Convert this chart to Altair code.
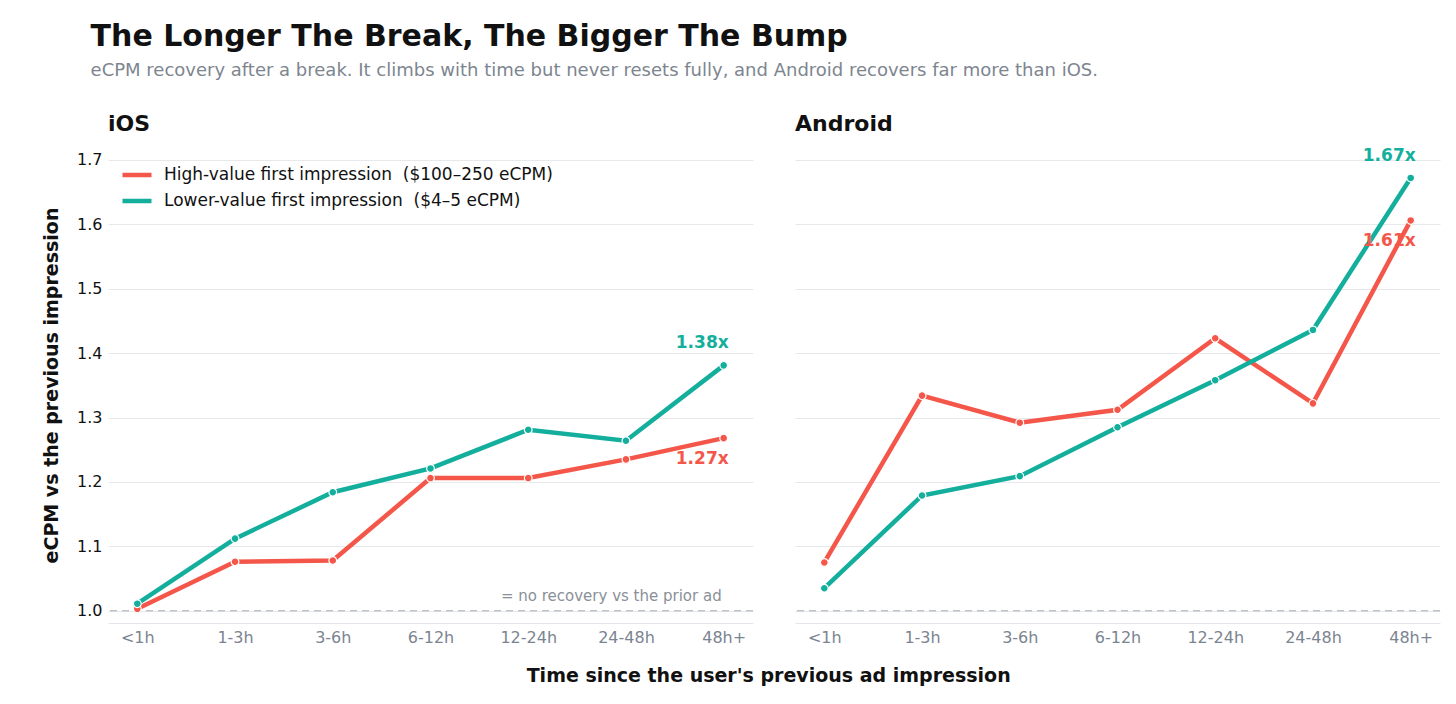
import altair as alt
import pandas as pd

buckets = ["<1h", "1-3h", "3-6h", "6-12h", "12-24h", "24-48h", "48h+"]
platforms = ["iOS", "Android"]
series_names = ["High-value first impression\u00a0 ($100–250 eCPM)",
                "Lower-value first impression\u00a0 ($4–5 eCPM)"]

ios_high = [1.003, 1.076, 1.078, 1.206, 1.206, 1.235, 1.268]
ios_low = [1.011, 1.112, 1.184, 1.221, 1.281, 1.264, 1.381]
android_high = [1.075, 1.334, 1.292, 1.312, 1.423, 1.322, 1.606]
android_low = [1.035, 1.179, 1.209, 1.285, 1.358, 1.436, 1.672]

end_labels = {
    ("iOS", 0): "1.27x", ("iOS", 1): "1.38x",
    ("Android", 0): "1.61x", ("Android", 1): "1.67x",
}

RED = "#F4574A"
TEAL = "#13AF9C"
FONT = "DejaVu Sans"

rows = []
for plat, hi, lo in [("iOS", ios_high, ios_low), ("Android", android_high, android_low)]:
    for si, vals in enumerate([hi, lo]):
        for b, v in zip(buckets, vals):
            rows.append({"platform": plat, "bucket": b, "series": series_names[si],
                         "sidx": si, "value": v,
                         "label": end_labels[(plat, si)] if b == buckets[-1] else ""})
df = pd.DataFrame(rows)

color_scale = alt.Scale(domain=series_names, range=[RED, TEAL])
x_enc = alt.X("bucket:N", sort=buckets, scale=alt.Scale(type="point", padding=0.3),
              axis=alt.Axis(title=None, labelColor="#7b8491", labelFontSize=16,
                            labelFont=FONT, ticks=False, domain=True,
                            domainColor="#e3e7ec", labelPadding=6, grid=False,
                            labelAngle=0))
y_scale = alt.Scale(domain=[0.981, 1.72], nice=False, zero=False)
y_vals = [1.0, 1.1, 1.2, 1.3, 1.4, 1.5, 1.6, 1.7]


def panel(plat, show_axis):
    d = df[df.platform == plat]
    if show_axis:
        y_axis = alt.Axis(title="eCPM vs the previous impression", values=y_vals,
                          format=".1f", labelFontSize=16, labelColor="#111111", labelFont=FONT,
                          titleFont=FONT, titleFontSize=19, titleFontWeight="bold",
                          titleColor="#111111", titlePadding=15, ticks=False, domain=False,
                          gridColor="#e6e8ec", labelPadding=6)
        legend = alt.Legend(title=None, orient="none", legendX=12, legendY=11,
                            symbolType="stroke", symbolStrokeWidth=4.5, symbolSize=841,
                            labelFontSize=17, labelFont=FONT, labelColor="#111111",
                            rowPadding=-4, labelOffset=10, symbolOpacity=1, labelLimit=0)
    else:
        y_axis = alt.Axis(title=None, values=y_vals,
                          labels=False, ticks=False, domain=False, gridColor="#e6e8ec")
        legend = None
    base = alt.Chart(d)
    rule = alt.Chart(pd.DataFrame({"y": [1.0]})).mark_rule(
        color="#bfc3c8", strokeDash=[7, 5], strokeWidth=1.5
    ).encode(y=alt.Y("y:Q", scale=y_scale, axis=y_axis))
    line = base.mark_line(strokeWidth=4.5).encode(
        x=x_enc,
        y=alt.Y("value:Q", scale=y_scale, axis=y_axis),
        color=alt.Color("series:N", scale=color_scale, legend=legend),
        detail="series:N",
    )
    pts = base.mark_point(filled=True, size=60, stroke="white", strokeWidth=1.2, opacity=1).encode(
        x=x_enc, y=alt.Y("value:Q", scale=y_scale),
        fill=alt.Fill("series:N", scale=color_scale, legend=None),
    )
    last = d[d.bucket == buckets[-1]]
    lab_hi = alt.Chart(last[last.sidx == 0]).mark_text(
        font=FONT, fontSize=17, fontWeight="bold", align="right", baseline="middle",
        dx=5, dy=21, color=RED
    ).encode(x=x_enc, y=alt.Y("value:Q", scale=y_scale), text="label:N")
    lab_lo = alt.Chart(last[last.sidx == 1]).mark_text(
        font=FONT, fontSize=17, fontWeight="bold", align="right", baseline="middle",
        dx=5, dy=-22, color=TEAL
    ).encode(x=x_enc, y=alt.Y("value:Q", scale=y_scale), text="label:N")
    layers = [rule, line, pts, lab_hi, lab_lo]
    if show_axis:
        note = alt.Chart(pd.DataFrame({"bucket": [buckets[-1]], "y": [1.0], "t": ["= no recovery vs the prior ad"]})).mark_text(
            font=FONT, fontSize=15, color="#8a9099", align="right", baseline="bottom", dx=-2, dy=-7
        ).encode(x=x_enc, y=alt.Y("y:Q", scale=y_scale), text="t:N")
        layers.append(note)
    return alt.layer(*layers).properties(
        width=645, height=476,
        title=alt.TitleParams(plat, anchor="start", frame="group", font=FONT, fontSize=22,
                              fontWeight="bold", color="#111111", offset=11),
    )


inner = alt.hconcat(panel("iOS", True), panel("Android", False), spacing=40).resolve_legend(
    color="independent", fill="independent"
).properties(
    title=alt.TitleParams("Time since the user's previous ad impression", orient="bottom",
                          anchor="middle", font=FONT, fontSize=19, fontWeight="bold",
                          color="#111111", offset=22, dx=27)
)

chart = alt.vconcat(inner).properties(
    title=alt.TitleParams(
        "The Longer The Break, The Bigger The Bump",
        subtitle="eCPM recovery after a break. It climbs with time but never resets fully, and Android recovers far more than iOS.",
        anchor="start", font=FONT, fontSize=30, fontWeight="bold", color="#111111",
        subtitleFont=FONT, subtitleFontSize=18, subtitleColor="#7d858f", subtitlePadding=10,
        offset=33, dx=48,
    ),
    padding={"left": 34, "top": 13, "right": 5, "bottom": 5},
    background="white",
).configure_view(strokeWidth=0, stroke="transparent")

chart.save("out.html", embed_options={"renderer": "svg", "actions": False})
